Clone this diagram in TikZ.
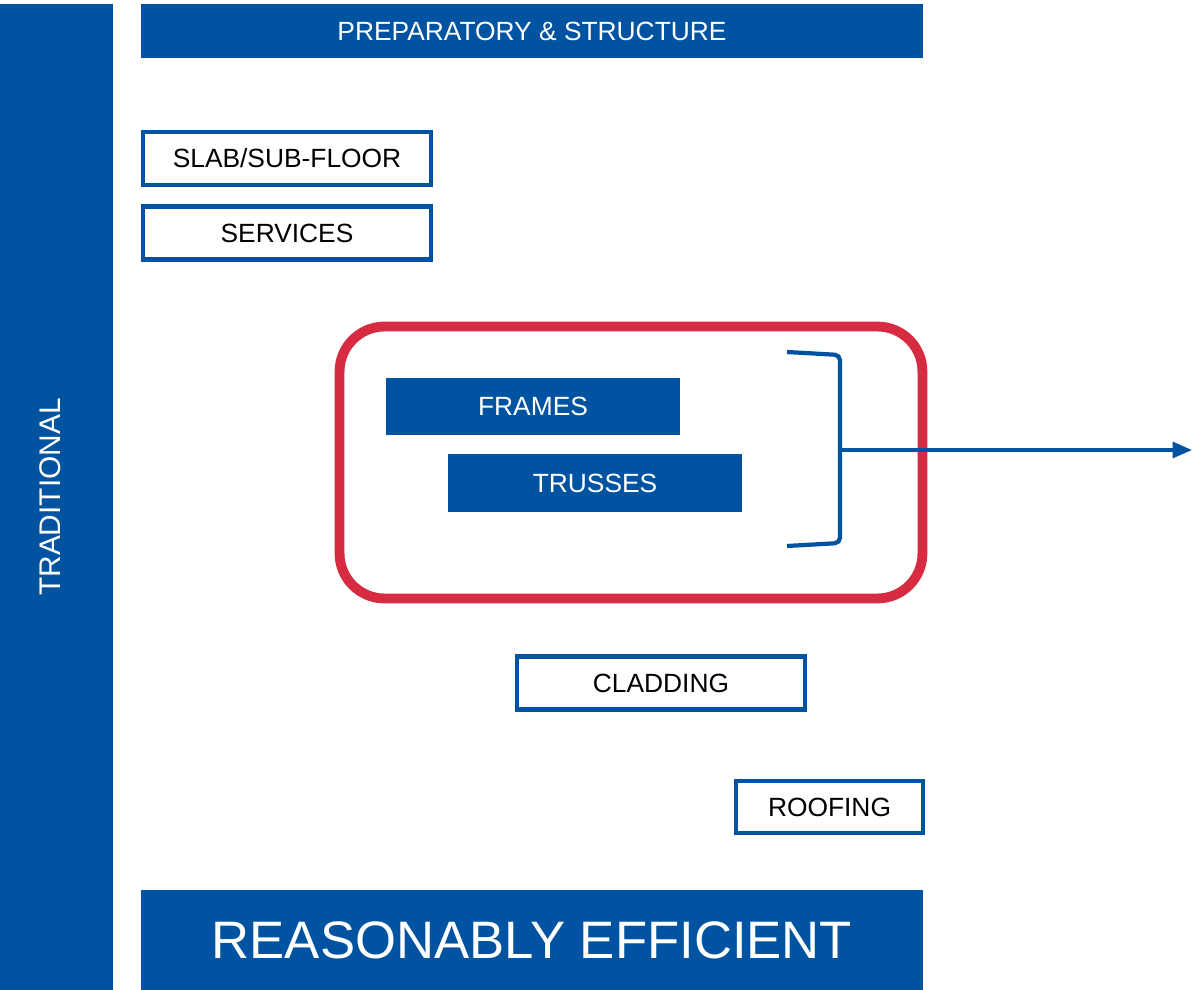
\documentclass[tikz,border=0pt]{standalone}
\usepackage{fontspec}
\setmainfont{Liberation Sans}
\usepackage{tikz}
\usetikzlibrary{arrows.meta,positioning}

\definecolor{deepblue}{RGB}{0,83,160}
\definecolor{framered}{RGB}{214,43,64}

\begin{document}
\begin{tikzpicture}[
    x=0.02cm, y=-0.02cm,
    every node/.style={font=\fontsize{15}{18}\selectfont, inner sep=0pt},
    banner/.style={rectangle, fill=deepblue, text=white, minimum width=15.64cm},
    task/.style={rectangle, draw=deepblue, line width=2.3pt, fill=white, minimum width=5.76cm, minimum height=1.06cm},
    offsite/.style={rectangle, fill=deepblue, text=white, minimum width=5.88cm, minimum height=1.15cm},
    group/.style={rectangle, draw=framered, line width=5.6pt, rounded corners=0.9cm, minimum width=11.66cm, minimum height=5.44cm},
    arrow/.style={-{Triangle[length=11pt,width=9pt]}, draw=deepblue, line width=2pt}
]
\useasboundingbox (0,0) rectangle (1194,990);

% Side bar and banners
\node[fill=deepblue, minimum width=2.26cm, minimum height=19.72cm] (tradbar) at (56.5,497) {};
\node[text=white, rotate=90, font=\fontsize{17}{20}\selectfont] (traditional) at (50,497) {TRADITIONAL};
\node[banner, minimum height=1.08cm] (prep) at (532,31) {PREPARATORY \& STRUCTURE};
\node[banner, minimum height=2cm, font=\fontsize{30}{36}\selectfont] (efficient) at (532,940) {REASONABLY EFFICIENT};

% Site tasks
\node[task] (slab) at (287,158.5) {SLAB/SUB-FLOOR};
\node[task] (services) at (287,233) {SERVICES};
\node[task] (cladding) at (661,683) {CLADDING};
\node[task, minimum width=3.74cm, minimum height=1.04cm] (roofing) at (829.5,807) {ROOFING};

% Prefabricated group
\node[group] (prefab) at (631,462.5) {};
\node[offsite] (frames) at (533,406.5) {FRAMES};
\node[offsite, minimum height=1.16cm] (trusses) at (595,483) {TRUSSES};

% Bracket and arrow
\coordinate (brtop) at (787,352);
\coordinate (brbot) at (787,546);
\coordinate (brmid) at (840,450);
\coordinate (outend) at (1192,450);
\draw[deepblue, line width=2.4pt, rounded corners=3pt]
    (brtop) -- (840,355) -- (840,543) -- (brbot);
\draw[arrow] (brmid) -- (outend);

\end{tikzpicture}
\end{document}
